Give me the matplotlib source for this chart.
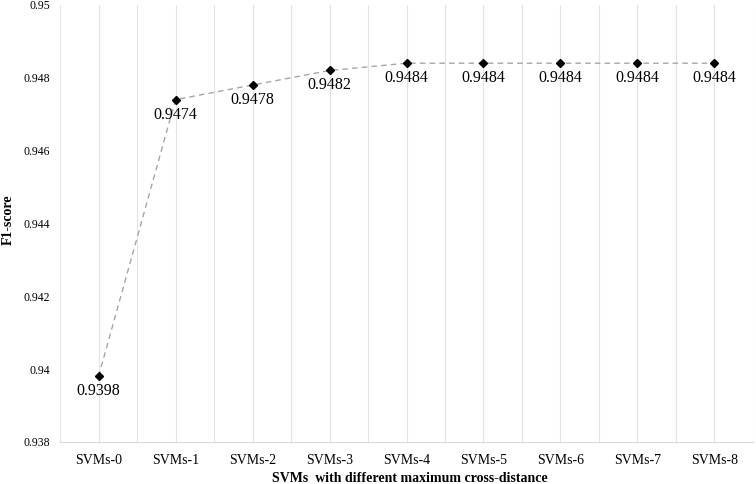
import matplotlib
matplotlib.use("Agg")
import matplotlib.pyplot as plt
import numpy as np

plt.rcParams["font.family"] = ["Liberation Serif", "DejaVu Serif"]

categories = ["SVMs-0", "SVMs-1", "SVMs-2", "SVMs-3", "SVMs-4",
              "SVMs-5", "SVMs-6", "SVMs-7", "SVMs-8"]
f1_scores = [0.9398, 0.9474, 0.9478, 0.9482, 0.9484,
             0.9484, 0.9484, 0.9484, 0.9484]
y_ticks = [0.938, 0.94, 0.942, 0.944, 0.946, 0.948, 0.95]

fig = plt.figure(figsize=(7.56, 4.84), dpi=100)
ax = fig.add_axes([0.0794, 0.0868, 0.9166, 0.903])

x = np.arange(len(categories))
ax.plot(x, f1_scores, color="#a6a6a6", lw=1.0, ls=(0, (4, 3)), zorder=2)
ax.plot(x, f1_scores, ls="none", marker="D", ms=4.5, color="black", zorder=3)

for xi, v in zip(x, f1_scores):
    ax.annotate(f"{v:.4f}", (xi, v), xytext=(0, -5), textcoords="offset points",
                ha="center", va="top", fontsize=11.5, color="black")

ax.set_xlim(-0.5, len(categories) - 0.5)
ax.set_ylim(0.938, 0.95)
ax.set_yticks(y_ticks)
ax.set_yticklabels([f"{t:g}" for t in y_ticks], fontsize=8.5)
ax.set_xticks(x)
ax.set_xticklabels(categories, fontsize=10)

# vertical gridlines at every half category
for g in np.arange(-0.5, len(categories), 0.5):
    ax.axvline(g, color="#e3e3e3", lw=0.8, zorder=0)

for s in ["top", "right", "left"]:
    ax.spines[s].set_visible(False)
ax.spines["bottom"].set_color("#d9d9d9")
ax.tick_params(length=0)
ax.tick_params(axis="x", pad=9)
ax.tick_params(axis="y", pad=7)

fig.text(8 / 756, 1 - 220 / 484, "F1-score", rotation=90, fontsize=10,
         fontweight="bold", ha="center", va="center")
fig.text(410 / 756, 1 - 478 / 484, "SVMs  with different maximum cross-distance",
         fontsize=10, fontweight="bold", ha="center", va="center")

fig.savefig("out.png", dpi=100)
